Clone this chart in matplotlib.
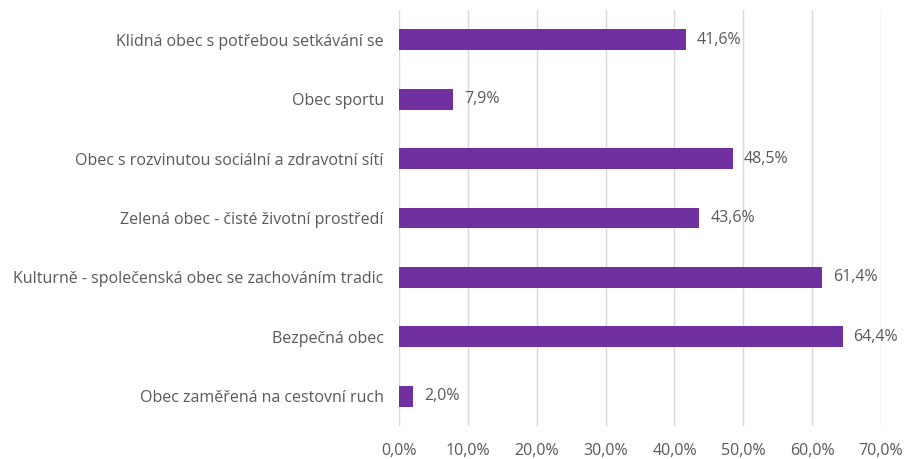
import matplotlib.pyplot as plt
import numpy as np

categories = [
    "Klidná obec s potřebou setkávání se",
    "Obec sportu",
    "Obec s rozvinutou sociální a zdravotní sítí",
    "Zelená obec - čisté životní prostředí",
    "Kulturně - společenská obec se zachováním tradic",
    "Bezpečná obec",
    "Obec zaměřená na cestovní ruch",
]
values = [41.6, 7.9, 48.5, 43.6, 61.4, 64.4, 2.0]
xticks = [0, 10, 20, 30, 40, 50, 60, 70]

plt.rcParams['font.family'] = ['Open Sans', 'DejaVu Sans']
txt = '#595959'
fs = 11.5

fig = plt.figure(figsize=(9.07, 4.59), dpi=100)
ax = fig.add_axes([0.44, 0.072, 0.5314, 0.906])

y = np.arange(len(categories))
ax.barh(y, values, height=0.35, color='#7030A0', zorder=3)
for yi, v in zip(y, values):
    ax.text(v + 1.6, yi, f"{v:.1f}".replace('.', ',') + '%', va='center', ha='left',
            fontsize=fs, color=txt)

ax.set_ylim(len(categories) - 0.5, -0.5)
ax.set_xlim(0, 70)
ax.set_yticks(y)
ax.set_yticklabels(categories, fontsize=fs, color=txt)
ax.set_xticks(xticks)
ax.set_xticklabels([f"{t:.1f}".replace('.', ',') + '%' for t in xticks], fontsize=fs, color=txt)
ax.grid(axis='x', color='#d9d9d9', linewidth=1, zorder=0)
for s in ax.spines.values():
    s.set_visible(False)
ax.tick_params(axis='y', length=0, pad=11)
ax.tick_params(axis='x', length=0, pad=12)

fig.savefig('out.png', dpi=100)
